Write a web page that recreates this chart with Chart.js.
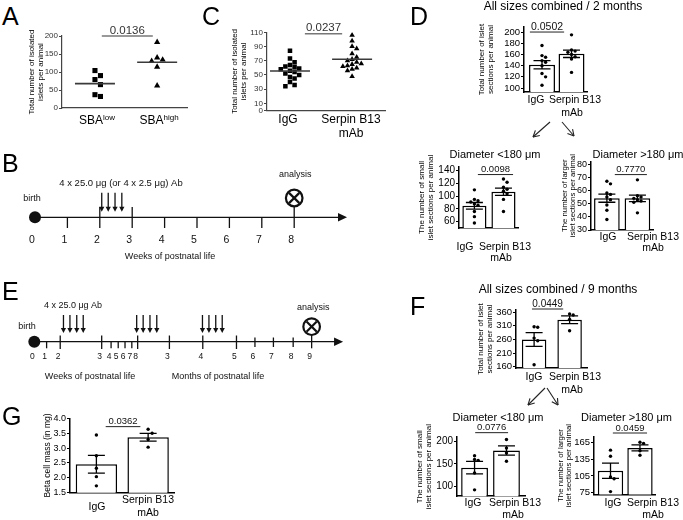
<!DOCTYPE html>
<html><head><meta charset="utf-8">
<script src="https://cdn.jsdelivr.net/npm/chart.js@4.4.1/dist/chart.umd.min.js"></script>
<style>
html,body{margin:0;padding:0;background:#fff;}
#fig{position:relative;width:683px;height:520px;overflow:hidden;background:#fff;font-family:"Liberation Sans",Arial,Helvetica,sans-serif;color:#000;}
canvas{position:absolute;}
.t{position:absolute;white-space:nowrap;}
svg{position:absolute;left:0;top:0;pointer-events:none;}
</style></head><body><div id="fig"></div>
<script>
// ---------------- DATA ----------------
const aCategories = [['SBA','low'],['SBA','high']];
const aLow  = [104, 90, 79, 65, 37, 32];
const aHigh = [183, 140, 134, 130, 114, 62];
const aYTicks = [0, 50, 100, 150, 200];
const aP = '0.0136';

const groupLabels = ['IgG', ['Serpin B13', 'mAb']];

const cIgG    = [84, 73, 68, 64, 62, 61, 59, 58, 56, 54, 52, 50, 47, 45, 40, 36, 34];
const cSerpin = [106, 98, 90, 87, 80, 75, 72, 70, 68, 66, 65, 63, 62, 60, 58, 56, 48];
const cYTicks = [0, 10, 30, 50, 70, 90, 110];
const cP = '0.0237';

const dIgG    = [176, 158, 155, 149, 146, 140, 126, 120, 105];
const dSerpin = [195, 168, 166, 164, 160, 156, 152, 128];
const dYTicks = [100, 120, 140, 160, 180, 200];
const dP = '0.0502';

const dSmallIgG    = [110, 95, 93, 91, 88, 86, 76, 68, 58];
const dSmallSerpin = [127, 122, 114, 111, 108, 104, 95, 76];
const dSmallYTicks = [60, 80, 100, 120, 140];
const dSmallP = '0.0098';

const dLargeIgG    = [67, 65, 58, 57, 55, 53, 49, 45, 38];
const dLargeSerpin = [68, 56, 55, 54, 53, 52, 51, 43];
const dLargeYTicks = [30, 40, 50, 60, 70, 80];
const dLargeP = '0.7770';

const fIgG    = [307, 305, 265, 255, 167];
const fSerpin = [354, 350, 334, 292];
const fYTicks = [160, 210, 260, 310, 360];
const fP = '0.0449';

const fSmallIgG    = [168, 160, 158, 130, 93];
const fSmallSerpin = [204, 185, 174, 156];
const fSmallYTicks = [100, 150, 200];
const fSmallP = '0.0776';

const fLargeIgG    = [151, 140, 103, 100, 77];
const fLargeSerpin = [165, 163, 150, 142];
const fLargeYTicks = [75, 105, 135, 165];
const fLargeP = '0.0459';

const gIgG    = [3.44, 2.74, 2.32, 2.04, 1.73];
const gSerpin = [3.63, 3.50, 3.29, 3.03];
const gYTicks = [1.5, 2.0, 2.5, 3.0, 3.5, 4.0];
const gP = '0.0362';

const bWeeks = [0, 1, 2, 3, 4, 5, 6, 7, 8];
const bDoseWeeks = [2.06, 2.26, 2.47, 2.68];
const bAnalysisWeek = 8;

const eTickPos    = [0, 0.38, 0.80, 2.08, 2.37, 2.59, 2.80, 3.01, 3.19, 4.17, 5.20, 6.24, 6.81, 7.38, 7.99, 8.56];
const eTickLabels = ['0','1','2','3','4','5','6','7','8','3','4','5','6','7','8','9'];
const eDosePos    = [0.90, 1.10, 1.31, 1.51, 3.16, 3.36, 3.57, 3.78, 5.19, 5.39, 5.60, 5.80];
const eAnalysisPos = 8.56;

// ---------------- HELPERS ----------------
const FONT = '"Liberation Sans", Arial, Helvetica, sans-serif';
Chart.defaults.font.family = FONT;
Chart.defaults.color = '#000';
const fig = document.getElementById('fig');

function addText(str, x, base, size, align) {
  const d = document.createElement('div');
  d.className = 't'; d.textContent = str;
  d.style.fontSize = size + 'px'; d.style.lineHeight = size + 'px';
  d.style.top = (base - 0.8465 * size) + 'px';
  d.style.left = x + 'px';
  if (align === 'center') d.style.transform = 'translateX(-50%)';
  fig.appendChild(d);
}
function makeCanvas(l, t, w, h) {
  const cv = document.createElement('canvas');
  cv.width = w; cv.height = h;
  Object.assign(cv.style, {left: l + 'px', top: t + 'px', width: w + 'px', height: h + 'px'});
  fig.appendChild(cv);
  return cv;
}
const mean = a => a.reduce((s, v) => s + v, 0) / a.length;
const sem = a => { const m = mean(a); return Math.sqrt(a.reduce((s, v) => s + (v - m) ** 2, 0) / (a.length - 1)) / Math.sqrt(a.length); };

function swarm(vals, thr, step) {
  const idx = vals.map((v, i) => i).sort((a, b) => vals[b] - vals[a]);
  const off = vals.map(() => 0); const placed = [];
  const cands = [0]; for (let k = 1; k < 14; k++) { cands.push(k * step, -k * step); }
  for (const i of idx) {
    for (const c of cands) {
      const ok = placed.every(p => { const dv = (vals[p] - vals[i]) / thr, dx = (off[p] - c) / step; return dv * dv + dx * dx >= 0.98; });
      if (ok) { off[i] = c; break; }
    }
    placed.push(i);
  }
  return off;
}

function panel(o) {
  const a = o.area;
  const tlh = o.titleLH || 1.05;
  const lh = o.titleSize * tlh;
  const left = Math.round(o.titleX - lh / 2);
  const top = Math.round(a.t - 30);
  const W = Math.round(a.r - left + 34);
  const H = Math.round(a.b - top + 50);
  const cv = makeCanvas(left, top, W, H);
  const padL = a.l - left, padT = a.t - top, padR = W - (a.r - left), xH = H - (a.b - top);
  const unitPx = (a.r - a.l) / (o.xMax - o.xMin);
  const valPx = (a.b - a.t) / (o.yMax - o.yMin);
  const datasets = [];
  o.groups.forEach((vals, gi) => {
    const off = swarm(vals, o.stepPx / valPx, o.stepPx / unitPx);
    datasets.push({type: 'scatter', order: 0, data: vals.map((v, j) => ({x: gi + off[j], y: v})),
      pointStyle: o.pointStyles[gi], radius: o.pointRadius, hoverRadius: o.pointRadius,
      backgroundColor: '#000', borderColor: '#000', borderWidth: 0});
  });
  if (o.kind === 'bar') {
    datasets.push({type: 'bar', order: 1, data: o.groups.map((vals, gi) => ({x: gi, y: mean(vals)})),
      backgroundColor: '#fff', borderColor: '#000', borderWidth: 1.5, borderSkipped: false,
      barPercentage: o.barFrac, categoryPercentage: 1});
  }
  const plug = {
    id: 'annot',
    afterDatasetDraw(chart, args) {
      if (o.kind !== 'bar' || chart.data.datasets[args.index].type !== 'bar') return;
      const {ctx, scales: {x, y}} = chart;
      ctx.save(); ctx.strokeStyle = '#000'; ctx.lineWidth = 1.3;
      o.groups.forEach((vals, gi) => {
        const m = mean(vals), s = sem(vals);
        const px = x.getPixelForValue(gi), hw = o.capHalfPx;
        const y1 = y.getPixelForValue(m + s), y0 = y.getPixelForValue(m - s);
        ctx.beginPath();
        ctx.moveTo(px, y1); ctx.lineTo(px, y0);
        ctx.moveTo(px - hw, y1); ctx.lineTo(px + hw, y1);
        ctx.moveTo(px - hw, y0); ctx.lineTo(px + hw, y0);
        ctx.stroke();
      });
      ctx.restore();
    },
    afterDatasetsDraw(chart) {
      if (o.kind !== 'dot') return;
      const {ctx, scales: {x, y}} = chart;
      ctx.save(); ctx.strokeStyle = '#3a3a3a'; ctx.lineWidth = 1.6;
      o.groups.forEach((vals, gi) => {
        const px = x.getPixelForValue(gi), py = y.getPixelForValue(mean(vals));
        ctx.beginPath(); ctx.moveTo(px - o.meanHalfPx, py); ctx.lineTo(px + o.meanHalfPx, py); ctx.stroke();
      });
      ctx.restore();
    },
    afterDraw(chart) {
      const {ctx, scales: {x, y}} = chart; const s = o.sig;
      const x0 = x.getPixelForValue(s.x0), x1 = x.getPixelForValue(s.x1), py = y.getPixelForValue(s.v);
      ctx.save();
      ctx.strokeStyle = s.lineColor; ctx.lineWidth = s.lw;
      ctx.beginPath(); ctx.moveTo(x0, py); ctx.lineTo(x1, py); ctx.stroke();
      ctx.fillStyle = s.color; ctx.font = s.size + 'px ' + FONT; ctx.textAlign = 'center'; ctx.textBaseline = 'alphabetic';
      ctx.fillText(s.text, (x0 + x1) / 2, py - 2.5);
      ctx.restore();
      if (o.customX) o.customX(chart);
      if (o.labX) {
        ctx.save(); ctx.fillStyle = '#000'; ctx.textAlign = 'center'; ctx.textBaseline = 'middle';
        ctx.font = o.labelSize + 'px ' + FONT;
        o.cats.forEach((c, i) => {
          const lines = Array.isArray(c) ? c : [c];
          lines.forEach((ln, k) => ctx.fillText(ln, o.labX[i] - left + (k > 0 ? (o.mabDx || 0) : 0), o.labY[i] - top + k * o.labLH));
        });
        ctx.restore();
      }
    }
  };
  new Chart(cv, {
    type: o.kind === 'bar' ? 'bar' : 'scatter',
    data: {datasets},
    options: {
      responsive: false, animation: false, devicePixelRatio: 1,
      layout: {padding: {left: 0, top: padT, right: padR, bottom: 0}},
      plugins: {legend: {display: false}, tooltip: {enabled: false}},
      events: [],
      scales: {
        x: {type: 'linear', min: o.xMin, max: o.xMax, offset: false,
          afterBuildTicks: s => { s.ticks = o.cats.map((c, i) => ({value: i})); },
          afterFit: s => { s.height = xH; },
          ticks: {display: false, autoSkip: false, maxRotation: 0},
          grid: {display: false},
          border: {display: true, color: o.axisColor, width: o.axisWidth}
        },
        y: {type: 'linear', min: o.yMin, max: o.yMax, beginAtZero: false,
          afterBuildTicks: s => { s.ticks = o.yTicks.map(v => ({value: v})); },
          afterFit: s => { s.width = padL; },
          ticks: {callback: v => o.yFmt ? o.yFmt(v) : String(v), font: {size: o.tickSize}, color: o.axisColor === '#000' ? '#000' : '#333', padding: 1, autoSkip: false},
          grid: {display: true, drawOnChartArea: false, drawTicks: true, tickLength: 3, color: o.axisColor, lineWidth: 1},
          border: {display: true, color: o.axisColor, width: o.axisWidth},
          title: {display: true, text: o.title, font: {size: o.titleSize, lineHeight: tlh}, padding: 0, color: '#000'}
        }
      }
    },
    plugins: [plug]
  });
}

// ---------------- PANELS ----------------
const dotStyle = {kind: 'dot', axisColor: '#444', axisWidth: 1.2, meanHalfPx: 20, pointStyles: ['rect', 'triangle']};
const barStyle = {kind: 'bar', axisColor: '#000', axisWidth: 1.5, capHalfPx: 8.5, pointStyles: ['circle', 'circle'], pointRadius: 1.7, stepPx: 3.6, labelSize: 10.5};
const sigGray = {color: '#333', lineColor: '#777', lw: 1.6, size: 11.5};
const sigBlack = {color: '#111', lineColor: '#222', lw: 1};

panel(Object.assign({}, dotStyle, {
  area: {l: 62, t: 36, r: 187, b: 108}, titleX: 32, title: ['Total number of isolated', 'islets per animal'], titleSize: 8,
  yMin: 0, yMax: 200, yTicks: aYTicks, tickSize: 8, xMin: -0.53, xMax: 1.48, cats: aCategories,
  groups: [aLow, aHigh], pointRadius: 3.6, stepPx: 5.5,
  sig: Object.assign({}, sigGray, {x0: 0.11, x1: 0.93, v: 200, text: aP}),
  customX(chart) {
    const {ctx, scales: {x}, chartArea} = chart;
    ctx.save(); ctx.fillStyle = '#000'; ctx.textBaseline = 'alphabetic'; ctx.textAlign = 'left';
    aCategories.forEach((c, i) => {
      ctx.font = '12px ' + FONT; const w1 = ctx.measureText(c[0]).width;
      ctx.font = '8px ' + FONT; const w2 = ctx.measureText(c[1]).width;
      const x0 = x.getPixelForValue(i) + 2 - (w1 + w2) / 2, yb = chartArea.bottom + 16;
      ctx.font = '12px ' + FONT; ctx.fillText(c[0], x0, yb);
      ctx.font = '8px ' + FONT; ctx.fillText(c[1], x0 + w1, yb - 4.5);
    });
    ctx.restore();
  }
}));

panel(Object.assign({}, dotStyle, {
  area: {l: 267, t: 32.3, r: 385, b: 110.5}, titleX: 235, title: ['Total number of isolated', 'islets per animal'], titleSize: 8,
  yMin: 0, yMax: 110, yTicks: cYTicks, tickSize: 8, xMin: -0.37, xMax: 1.53, cats: groupLabels,
  groups: [cIgG, cSerpin], pointRadius: 3.2, stepPx: 4.6,
  labelSize: 12, labX: [288, 351], labY: [120, 120], labLH: 13.5,
  sig: Object.assign({}, sigGray, {x0: 0.24, x1: 0.84, v: 108, text: cP})
}));

panel(Object.assign({}, barStyle, {
  area: {l: 524, t: 27, r: 587, b: 92}, titleX: 482, title: ['Total number of islet', 'sections per animal'], titleSize: 8,
  yMin: 93, yMax: 209, yTicks: dYTicks, tickSize: 9.5, xMin: -0.61, xMax: 1.525, cats: groupLabels,
  groups: [dIgG, dSerpin], barFrac: 0.88,
  labX: [536, 575], labY: [100, 100], labLH: 13, mabDx: -3,
  sig: Object.assign({}, sigBlack, {x0: -0.41, x1: 0.75, v: 200, text: dP, size: 10.5})
}));

panel(Object.assign({}, barStyle, {
  area: {l: 459, t: 166.9, r: 518, b: 228.1}, titleX: 422, title: ['The number of small', 'islet sections per animal'], titleSize: 8,
  yMin: 50, yMax: 146, yTicks: dSmallYTicks, tickSize: 10, xMin: -0.53, xMax: 1.5, cats: groupLabels,
  groups: [dSmallIgG, dSmallSerpin], barFrac: 0.83,
  labX: [465, 505], labY: [247, 247], labLH: 11.5, mabDx: -4,
  sig: Object.assign({}, sigBlack, {x0: 0.12, x1: 1.33, v: 134, text: dSmallP, size: 9.5})
}));

panel(Object.assign({}, barStyle, {
  area: {l: 591, t: 161.4, r: 653, b: 230}, titleX: 565, title: ['The number of larger', 'islet sections per animal'], titleSize: 7.8, titleLH: 0.98,
  yMin: 30, yMax: 82, yTicks: dLargeYTicks, tickSize: 9, xMin: -0.52, xMax: 1.51, cats: groupLabels,
  groups: [dLargeIgG, dLargeSerpin], barFrac: 0.84,
  labX: [608, 653], labY: [237, 237], labLH: 11.5,
  sig: Object.assign({}, sigBlack, {x0: 0.26, x1: 1.31, v: 72, text: dLargeP, size: 9.5})
}));

panel(Object.assign({}, barStyle, {
  area: {l: 516, t: 310.1, r: 587, b: 368}, titleX: 481, title: ['Total number of islet', 'sections per animal'], titleSize: 8,
  yMin: 155, yMax: 368, yTicks: fYTicks, tickSize: 9.5, xMin: -0.51, xMax: 1.49, cats: groupLabels,
  groups: [fIgG, fSerpin], barFrac: 0.69,
  labX: [534, 575], labY: [377, 377], labLH: 13.5, mabDx: -3,
  sig: Object.assign({}, sigBlack, {x0: -0.06, x1: 0.82, v: 372, text: fP, size: 10})
}));

panel(Object.assign({}, barStyle, {
  area: {l: 457, t: 437.2, r: 525, b: 496.2}, titleX: 420, title: ['The number of small', 'islet sections per animal'], titleSize: 8,
  yMin: 79, yMax: 209, yTicks: fSmallYTicks, tickSize: 10, xMin: -0.55, xMax: 1.58, cats: groupLabels,
  groups: [fSmallIgG, fSmallSerpin], barFrac: 0.84,
  labX: [473, 515], labY: [503, 503], labLH: 12, mabDx: -2,
  sig: Object.assign({}, sigBlack, {x0: 0.02, x1: 1.05, v: 219, text: fSmallP, size: 9.5})
}));

panel(Object.assign({}, barStyle, {
  area: {l: 594, t: 436.7, r: 655, b: 494.4}, titleX: 561, title: ['The number of larger', 'islet sections per animal'], titleSize: 7.8, titleLH: 1.0,
  yMin: 72, yMax: 175, yTicks: fLargeYTicks, tickSize: 9.5, xMin: -0.56, xMax: 1.51, cats: groupLabels,
  groups: [fLargeIgG, fLargeSerpin], barFrac: 0.86,
  labX: [613, 653], labY: [503, 503], labLH: 12,
  sig: Object.assign({}, sigBlack, {x0: 0.08, x1: 1.24, v: 181.6, text: fLargeP, size: 9.5})
}));

panel(Object.assign({}, barStyle, {
  area: {l: 70, t: 418.3, r: 174, b: 492.7}, titleX: 47, title: 'Beta cell mass (in mg)', titleSize: 8.5,
  yMin: 1.5, yMax: 4.0, yTicks: gYTicks, yFmt: v => v.toFixed(1), tickSize: 9, xMin: -0.51, xMax: 1.5, cats: groupLabels,
  groups: [gIgG, gSerpin], barFrac: 0.8, stepPx: 4,
  labX: [97, 148], labY: [507, 500], labLH: 13,
  sig: Object.assign({}, sigBlack, {x0: 0.18, x1: 0.85, v: 3.72, text: gP, size: 9.5})
}));

// ---------------- TIMELINES ----------------
function timeline(box, xMin, xMax, draw) {
  const cv = makeCanvas(box.l, box.t, box.w, box.h);
  new Chart(cv, {
    type: 'scatter', data: {datasets: []},
    options: {responsive: false, animation: false, devicePixelRatio: 1, events: [],
      layout: {padding: 0}, plugins: {legend: {display: false}, tooltip: {enabled: false}},
      scales: {x: {type: 'linear', display: false, min: xMin, max: xMax}, y: {type: 'linear', display: false, min: 0, max: 1}}},
    plugins: [{id: 'tl', afterDraw(chart) {
      const ctx = chart.ctx, xs = chart.scales.x;
      ctx.save(); ctx.translate(0, -box.t);
      draw(ctx, v => xs.getPixelForValue(v));
      ctx.restore();
    }}]
  });
}
function seg(ctx, x0, y0, x1, y1) { ctx.beginPath(); ctx.moveTo(x0, y0); ctx.lineTo(x1, y1); ctx.stroke(); }
function downArrow(ctx, x, y0, y1) {
  seg(ctx, x, y0, x, y1 - 4);
  ctx.beginPath(); ctx.moveTo(x - 2.6, y1 - 5); ctx.lineTo(x + 2.6, y1 - 5); ctx.lineTo(x, y1); ctx.closePath(); ctx.fill();
}
function endArrow(ctx, x, y) {
  ctx.beginPath(); ctx.moveTo(x - 9, y - 4.2); ctx.lineTo(x, y); ctx.lineTo(x - 9, y + 4.2); ctx.closePath(); ctx.fill();
}
function analysisMark(ctx, x, y, r) {
  ctx.save(); ctx.lineWidth = 2.2;
  ctx.beginPath(); ctx.arc(x, y, r, 0, Math.PI * 2); ctx.stroke();
  const d = r * 0.62;
  seg(ctx, x - d, y - d, x + d, y + d); seg(ctx, x - d, y + d, x + d, y - d);
  ctx.restore();
}
function label(ctx, s, x, y, size) {
  ctx.font = size + 'px ' + FONT; ctx.textAlign = 'center'; ctx.textBaseline = 'middle'; ctx.fillText(s, x, y);
}

// B: 0 week at x=35, 32.4 px per week
timeline({l: 0, t: 140, w: 385, h: 130}, -35 / 32.4, (385 - 35) / 32.4, (ctx, X) => {
  const ly = 217.3;
  ctx.strokeStyle = '#111'; ctx.fillStyle = '#111'; ctx.lineWidth = 1.3;
  seg(ctx, X(0), ly, X(9.63) - 6, ly);
  endArrow(ctx, X(9.63), ly);
  ctx.beginPath(); ctx.arc(X(0), ly, 6, 0, Math.PI * 2); ctx.fill();
  const tStart = Math.floor(bDoseWeeks[0]), tEnd = Math.ceil(bDoseWeeks[bDoseWeeks.length - 1]);
  bWeeks.forEach(w => {
    if (w !== 0) {
      let y0 = ly;
      if (w === tStart || w === tEnd) y0 = 207;
      if (w === bAnalysisWeek) y0 = 206.5;
      seg(ctx, X(w), y0, X(w), 228);
    }
    label(ctx, String(w), X(w) - 3, 240, 10.5);
  });
  bDoseWeeks.forEach(w => downArrow(ctx, X(w), 192.7, 211.7));
  analysisMark(ctx, X(bAnalysisWeek), 198, 8.3);
  label(ctx, 'birth', X(0) - 3, 199, 9);
  label(ctx, '4 x 25.0 \u03bcg (or 4 x 2.5 \u03bcg) Ab', 121, 183, 9.5);
  label(ctx, 'analysis', X(bAnalysisWeek) + 1, 175, 9);
  label(ctx, 'Weeks of postnatal life', 170, 257, 9);
});

// E: broken time axis, birth at x=34.3
const eTickMarks = ['', 's', 't', 't', 's', 's', 's', 's', 't', 't', 't', 't', 'm', 'm', 'm', 'a'];
timeline({l: 0, t: 280, w: 385, h: 110}, -34.3 / 32.4, (385 - 34.3) / 32.4, (ctx, X) => {
  const ly = 341.7;
  ctx.strokeStyle = '#111'; ctx.fillStyle = '#111'; ctx.lineWidth = 1.3;
  seg(ctx, X(0), ly, X(9.53) - 6, ly);
  endArrow(ctx, X(9.53), ly);
  ctx.beginPath(); ctx.arc(X(0), ly, 6, 0, Math.PI * 2); ctx.fill();
  eTickPos.forEach((p, i) => {
    const k = eTickMarks[i];
    if (k === 's') seg(ctx, X(p), ly, X(p), 348.3);
    if (k === 't') seg(ctx, X(p), 335.5, X(p), 349);
    if (k === 'm') seg(ctx, X(p), 337.5, X(p), 347);
    if (k === 'a') seg(ctx, X(p), 335, X(p), 348.3);
    label(ctx, eTickLabels[i], X(p) - 2, 356.7, 8.5);
  });
  eDosePos.forEach(p => downArrow(ctx, X(p), 315, 333));
  analysisMark(ctx, X(eAnalysisPos), 326.7, 8.3);
  label(ctx, 'birth', 27, 326.7, 9);
  label(ctx, '4 x 25.0 \u03bcg Ab', 73, 306, 9);
  label(ctx, 'analysis', X(eAnalysisPos) + 1.5, 308, 9);
  label(ctx, 'Weeks of postnatal life', 90, 377, 9);
  label(ctx, 'Months of postnatal life', 218, 377, 9);
});

// ---------------- TEXT ----------------
addText('A', 2, 25, 25); addText('C', 202, 25, 25); addText('D', 410, 25, 25);
addText('B', 2, 172, 25); addText('E', 2, 300, 25); addText('F', 410, 315, 25); addText('G', 2, 425, 25);
addText('All sizes combined / 2 months', 563, 9.8, 12, 'center');
addText('Diameter <180 \u03bcm', 495, 158.3, 11, 'center');
addText('Diameter >180 \u03bcm', 638, 158.3, 11, 'center');
addText('All sizes combined / 9 months', 558, 292.7, 12, 'center');
addText('Diameter <180 \u03bcm', 498, 421.7, 11, 'center');
addText('Diameter >180 \u03bcm', 626.5, 421.7, 11, 'center');

// split arrows
const NS = 'http://www.w3.org/2000/svg';
const svg = document.createElementNS(NS, 'svg');
svg.setAttribute('width', 683); svg.setAttribute('height', 520);
function svgArrow(x0, y0, x1, y1) {
  const ang = Math.atan2(y1 - y0, x1 - x0), L = 7, s = 0.5;
  const pts = [[x0, y0, x1, y1],
    [x1, y1, x1 - L * Math.cos(ang - s), y1 - L * Math.sin(ang - s)],
    [x1, y1, x1 - L * Math.cos(ang + s), y1 - L * Math.sin(ang + s)]];
  pts.forEach(p => {
    const l = document.createElementNS(NS, 'line');
    l.setAttribute('x1', p[0]); l.setAttribute('y1', p[1]); l.setAttribute('x2', p[2]); l.setAttribute('y2', p[3]);
    l.setAttribute('stroke', '#222'); l.setAttribute('stroke-width', '1.1');
    svg.appendChild(l);
  });
}
svgArrow(550, 122, 533, 137); svgArrow(562, 122, 574, 136);
svgArrow(545, 388, 528, 405); svgArrow(547, 388, 558, 405);
fig.appendChild(svg);
</script></body></html>
